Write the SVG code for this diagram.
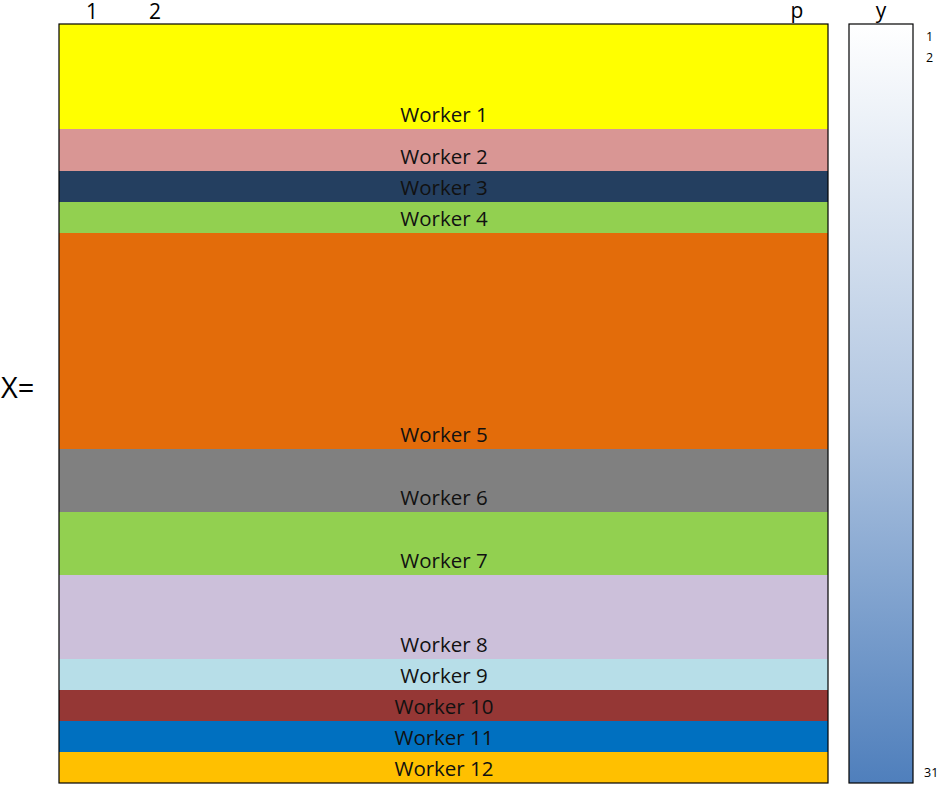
<svg xmlns="http://www.w3.org/2000/svg" width="946" height="795" viewBox="0 0 946 795">
<style>
.lbl{font-family:"Open Sans","Liberation Sans",sans-serif;font-size:20.5px;fill:#111;text-anchor:middle}
.top{font-family:"Open Sans","Liberation Sans",sans-serif;font-size:21px;fill:#000;text-anchor:middle}
.sm{font-family:"Open Sans","Liberation Sans",sans-serif;font-size:12.5px;fill:#000}
</style>
<defs>
<linearGradient id="yg" x1="0" y1="0" x2="0" y2="1">
<stop offset="0" stop-color="#ffffff"/>
<stop offset="0.5" stop-color="#b4c8e2"/>
<stop offset="1" stop-color="#4f7fbc"/>
</linearGradient>
</defs>
<text class="top" x="92" y="19">1</text>
<text class="top" x="155" y="19">2</text>
<text class="top" x="797" y="18">p</text>
<text class="top" x="881" y="18">y</text>
<text x="1" y="398" font-family="'Open Sans','Liberation Sans',sans-serif" font-size="29">X=</text>
<g id="w1"><rect x="59" y="24" width="769" height="105" fill="#ffff00"/><text class="lbl" x="444" y="122">Worker 1</text></g>
<g id="w2"><rect x="59" y="129" width="769" height="42" fill="#d99694"/><text class="lbl" x="444" y="164">Worker 2</text></g>
<g id="w3"><rect x="59" y="171" width="769" height="31" fill="#243f60"/><text class="lbl" x="444" y="195">Worker 3</text></g>
<g id="w4"><rect x="59" y="202" width="769" height="31" fill="#92d050"/><text class="lbl" x="444" y="226">Worker 4</text></g>
<g id="w5"><rect x="59" y="233" width="769" height="216" fill="#e36c0a"/><text class="lbl" x="444" y="442">Worker 5</text></g>
<g id="w6"><rect x="59" y="449" width="769" height="63" fill="#808080"/><text class="lbl" x="444" y="505">Worker 6</text></g>
<g id="w7"><rect x="59" y="512" width="769" height="63" fill="#92d050"/><text class="lbl" x="444" y="568">Worker 7</text></g>
<g id="w8"><rect x="59" y="575" width="769" height="84" fill="#ccc0da"/><text class="lbl" x="444" y="652">Worker 8</text></g>
<g id="w9"><rect x="59" y="659" width="769" height="31" fill="#b7dee8"/><text class="lbl" x="444" y="683">Worker 9</text></g>
<g id="w10"><rect x="59" y="690" width="769" height="31" fill="#953735"/><text class="lbl" x="444" y="714">Worker 10</text></g>
<g id="w11"><rect x="59" y="721" width="769" height="31" fill="#0070c0"/><text class="lbl" x="444" y="745">Worker 11</text></g>
<g id="w12"><rect x="59" y="752" width="769" height="31" fill="#ffc000"/><text class="lbl" x="444" y="776">Worker 12</text></g>
<rect x="59" y="24" width="769" height="759" fill="none" stroke="#000" stroke-width="1.2"/>
<g id="y"><rect x="849" y="24" width="64" height="759" fill="url(#yg)" stroke="#000" stroke-width="1.2"/>
<text class="sm" x="926" y="41">1</text>
<text class="sm" x="926" y="62">2</text>
<text class="sm" x="924" y="777">31</text></g>
</svg>
